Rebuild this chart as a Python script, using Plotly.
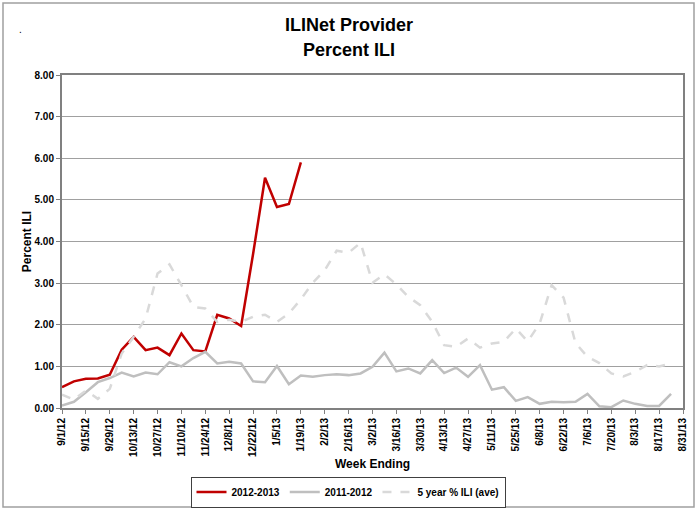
import pandas as pd
import plotly.graph_objects as go

# week ending dates, 9/1/12 .. 8/31/13
weeks = pd.date_range("2012-09-01", "2013-08-31", freq="7D")

# percent ILI
ili_2012_13 = [0.50, 0.64, 0.70, 0.71, 0.80, 1.40, 1.71, 1.39, 1.45, 1.27,
               1.79, 1.39, 1.36, 2.24, 2.15, 1.97, 3.70, 5.53, 4.83, 4.90,
               5.90]
ili_2011_12 = [0.06, 0.15, 0.38, 0.62, 0.72, 0.85, 0.76, 0.85, 0.81, 1.10,
               1.00, 1.20, 1.35, 1.07, 1.11, 1.07, 0.64, 0.62, 1.01, 0.57,
               0.78, 0.75, 0.79, 0.81, 0.79, 0.83, 0.99, 1.33, 0.88, 0.95,
               0.83, 1.15, 0.84, 0.97, 0.75, 1.03, 0.44, 0.50, 0.17, 0.26,
               0.10, 0.15, 0.14, 0.15, 0.34, 0.04, 0.02, 0.18, 0.10, 0.05,
               0.05, 0.34]
ili_5yr_ave = [0.32, 0.20, 0.42, 0.22, 0.46, 1.31, 1.71, 2.15, 3.23, 3.45,
               2.95, 2.43, 2.39, 2.07, 2.12, 2.07, 2.19, 2.24, 2.07, 2.27,
               2.61, 3.01, 3.31, 3.78, 3.73, 3.97, 3.01, 3.21, 2.97, 2.67,
               2.47, 2.07, 1.51, 1.47, 1.67, 1.45, 1.55, 1.59, 1.91, 1.60,
               2.03, 2.95, 2.65, 1.56, 1.23, 1.08, 0.83, 0.76, 0.87, 1.03,
               1.00, 1.07]

tick_dates = weeks[::2]
tick_text = [f"{d.month}/{d.day}/{d.year % 100}" for d in tick_dates]

FONT = "Liberation Sans, Arial, sans-serif"

# plot area in pixels: x 62..683, y 75..408
def px(x):
    return (x - 62) / 621

def py(y):
    return (408 - y) / 333

fig = go.Figure()

fig.add_trace(go.Scatter(
    x=weeks[:len(ili_2012_13)], y=ili_2012_13, mode="lines",
    name="<b>2012-2013</b>", line=dict(color="#C00000", width=2.5)))

fig.add_trace(go.Scatter(
    x=weeks[:len(ili_2011_12)], y=ili_2011_12, mode="lines",
    name="<b>2011-2012</b>", line=dict(color="#BFBFBF", width=2.5)))

fig.add_trace(go.Scatter(
    x=weeks[:len(ili_5yr_ave)], y=ili_5yr_ave, mode="lines",
    name="<b>5 year % ILI (ave)</b>",
    line=dict(color="#D9D9D9", width=2.5, dash="dash")))

fig.update_layout(
    width=698, height=510,
    margin=dict(l=62, r=15, t=75, b=102, autoexpand=False),
    paper_bgcolor="white", plot_bgcolor="white",
    font=dict(family=FONT, color="black"),
    showlegend=True,
    legend=dict(orientation="h", x=px(348), xanchor="center",
                y=py(492), yanchor="middle",
                bordercolor="#404040", borderwidth=1,
                font=dict(size=10, family=FONT),
                itemwidth=30, tracegroupgap=0),
)

fig.update_xaxes(
    type="date",
    range=[weeks[0], weeks[-1]],
    tickvals=tick_dates, ticktext=[f"<b>{t}</b>" for t in tick_text],
    tickangle=-90, tickfont=dict(size=10),
    ticks="outside", ticklen=4, tickcolor="#808080",
    showgrid=False, zeroline=False,
    showline=True, linecolor="#808080", linewidth=2, mirror=True,
    title=dict(text="<b>Week Ending</b>", font=dict(size=12), standoff=4),
)

fig.update_yaxes(
    range=[0, 8], dtick=1, tickformat=".2f",
    tickprefix="<b>", ticksuffix="</b>",
    tickfont=dict(size=10),
    ticks="outside", ticklen=4, tickcolor="#808080",
    showgrid=True, gridcolor="#A0A0A0", gridwidth=1,
    zeroline=False,
    showline=True, linecolor="#808080", linewidth=2, mirror=True,
    title=dict(text="<b>Percent ILI</b>", font=dict(size=12), standoff=0),
)

# two line chart title
fig.add_annotation(text="<b>ILINet Provider</b>", xref="paper", yref="paper",
                   x=px(349), y=py(25), xanchor="center", yanchor="middle",
                   showarrow=False, font=dict(size=18))
fig.add_annotation(text="<b>Percent ILI</b>", xref="paper", yref="paper",
                   x=px(349), y=py(50), xanchor="center", yanchor="middle",
                   showarrow=False, font=dict(size=18))

# outer chart frame and the small stray dot near the title
fig.add_shape(type="rect", xref="paper", yref="paper",
              x0=px(3), x1=px(694), y0=py(507), y1=py(3),
              line=dict(color="#A0A0A0", width=1.5), layer="below")
fig.add_annotation(text=".", xref="paper", yref="paper",
                   x=px(17), y=py(22), showarrow=False, font=dict(size=10))

# drop the page's default body margin so the figure sits at the window corner
fig.write_html("out.html", config={"displayModeBar": False},
               post_script="document.body.style.margin='0';")
